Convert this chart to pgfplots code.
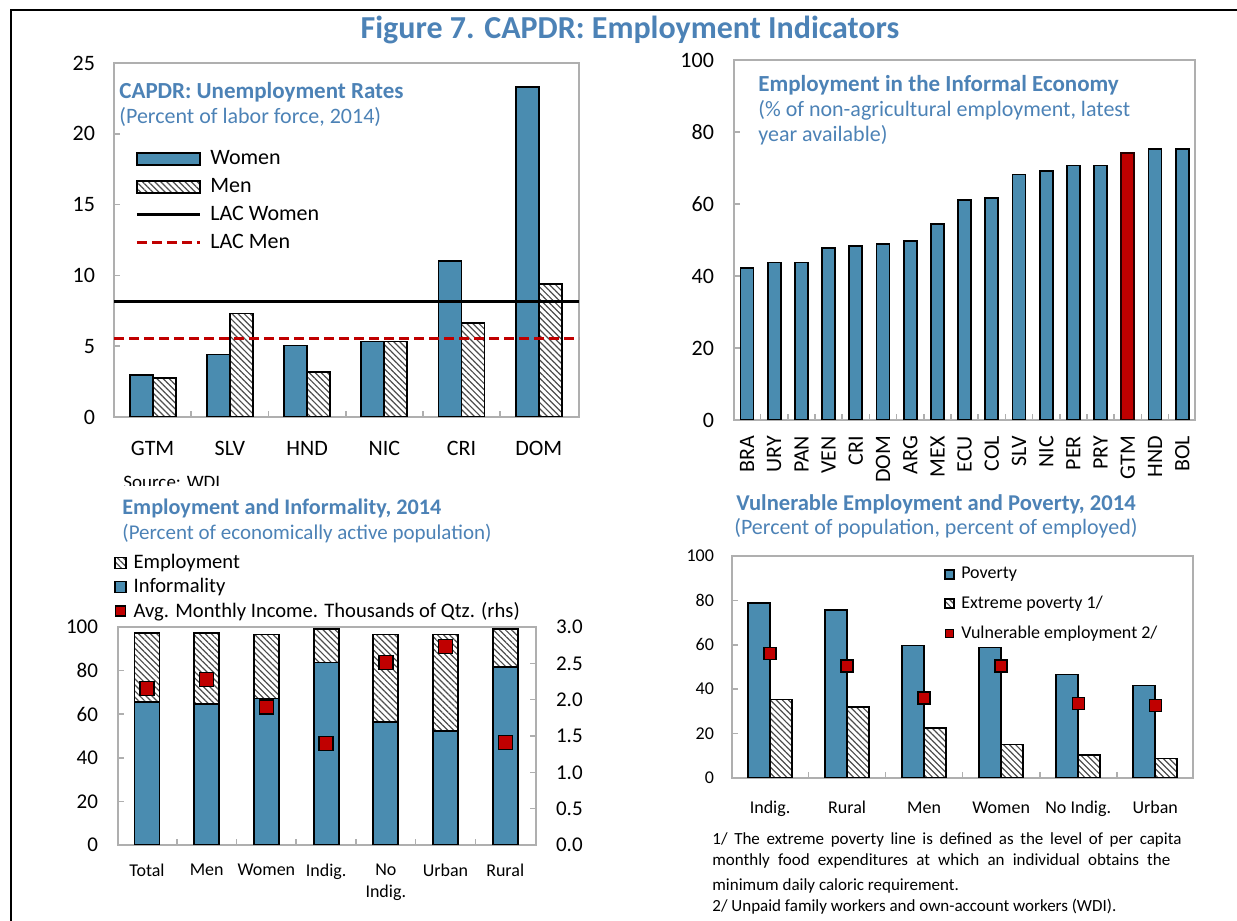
\documentclass[border=0pt]{standalone}
\usepackage{fontspec}
\setmainfont{Carlito}
\usepackage{pgfplots}
\pgfplotsset{compat=1.18}
\usetikzlibrary{patterns.meta}
\definecolor{barblue}{RGB}{74,140,176}
\definecolor{tblue}{RGB}{76,130,182}
\definecolor{dred}{RGB}{192,0,0}
\definecolor{axgray}{RGB}{175,175,175}
\tikzset{hatch/.style={pattern={Lines[angle=-45,distance=2.15pt,line width=0.6pt]},pattern color=black!70},
  ttl/.style={anchor=base west, inner sep=0pt, text=tblue}}
\pgfplotsset{
  /pgf/number format/assume math mode=true,
  myax/.style={scale only axis, anchor=south west,
    axis line style={draw=axgray, line width=0.9pt},
    tick style={draw=axgray, line width=0.8pt},
    tick align=inside, major tick length=3pt, minor tick length=3pt,
    major x tick style={draw=none}},
  widebar/.style={legend image code/.code={\draw[##1] (0pt,-3pt) rectangle (31.5pt,3pt);}},
  wideline/.style={legend image code/.code={\draw[##1] (0pt,0pt) -- (31.5pt,0pt);}},
  sqA/.style={legend image code/.code={\draw[##1] (0pt,-2.75pt) rectangle (5.5pt,2.75pt);}},
  sqAred/.style={legend image code/.code={\path[draw=black, fill=dred, line width=0.6pt] (0.3pt,-2.5pt) rectangle (5.3pt,2.5pt);}},
  sqB/.style={legend image code/.code={\draw[##1] (0pt,-2.25pt) rectangle (4.5pt,2.25pt);}},
  sqBred/.style={legend image code/.code={\path[draw=black, fill=dred, line width=0.6pt] (0pt,-2pt) rectangle (4pt,2pt);}},
}
\begin{document}
\begin{tikzpicture}
\path[use as bounding box] (0,0) rectangle (618.5pt,460.5pt);
\draw[line width=1pt] (5.5pt,0pt) -- (5.5pt,455.5pt) -- (618.5pt,455.5pt);
\node[font=\fontsize{16}{19}\selectfont\bfseries, text=tblue] at (315pt,445.5pt) {Figure 7. CAPDR: Employment Indicators};

% ---------------- Panel 1 ----------------
\begin{axis}[myax, at={(57pt,252pt)}, width=232.5pt, height=177pt,
  xmin=-0.5, xmax=5.52, ymin=0, ymax=25, ytick={0,5,...,25},
  xtick={0,...,5}, xticklabels={GTM,SLV,HND,NIC,CRI,DOM}, minor xtick={0.5,1.5,...,4.5},
  tick pos=left,
  tick label style={font=\fontsize{11}{13}\selectfont},
  xticklabel style={yshift=-8pt, text height=7.5pt, text depth=2pt}, yticklabel style={xshift=-6pt},
  legend style={at={(0.045,0.76)}, anchor=north west, draw=none, fill=none,
    font=\fontsize{11}{13}\selectfont, row sep=3.4pt, column sep=3.5pt, inner sep=0pt, nodes={inner sep=1pt}},
  legend cell align=left]
\addplot[ybar, bar width=11.5pt, bar shift=-5.75pt, fill=barblue, draw=black, line width=0.9pt, widebar]
  coordinates {(0,2.95) (1,4.41) (2,5.05) (3,5.33) (4,10.99) (5,23.28)};
\addlegendentry{Women}
\addplot[ybar, bar width=11.5pt, bar shift=5.75pt, hatch, draw=black, line width=0.9pt, widebar]
  coordinates {(0,2.78) (1,7.31) (2,3.2) (3,5.33) (4,6.65) (5,9.41)};
\addlegendentry{Men}
\addplot[sharp plot, black, line width=1.5pt, wideline]
  coordinates {(-0.5,8.18) (5.52,8.18)};
\addlegendentry{LAC Women}
\addplot[sharp plot, dred, line width=1.5pt, dash pattern=on 5pt off 2.5pt, wideline]
  coordinates {(-0.5,5.52) (5.52,5.52)};
\addlegendentry{LAC Men}
\end{axis}
\node[ttl, font=\fontsize{11.5}{14}\selectfont\bfseries] at (59.5pt,411pt) {CAPDR: Unemployment Rates};
\node[ttl, font=\fontsize{11}{13}\selectfont] at (59.5pt,398.5pt) {(Percent of labor force, 2014)};
\begin{scope}
\clip (0pt,217.5pt) rectangle (300pt,240pt);
\node[anchor=base west, inner sep=0pt, font=\fontsize{9.5}{11}\selectfont] at (61.5pt,216pt) {Source: WDI};
\end{scope}

% ---------------- Panel 2 ----------------
\begin{axis}[myax, at={(367pt,250.5pt)}, width=230.5pt, height=180pt,
  xmin=-0.48, xmax=16.47, ymin=0, ymax=100, ytick={0,20,...,100},
  xtick={0,...,16},
  xticklabels={BRA,URY,PAN,VEN,CRI,DOM,ARG,MEX,ECU,COL,SLV,NIC,PER,PRY,GTM,HND,BOL},
  minor xtick={0.5,1.5,...,15.5},
  tick pos=left,
  tick label style={font=\fontsize{11}{13}\selectfont},
  xticklabel style={rotate=90, anchor=east, xshift=-4.5pt}, yticklabel style={xshift=-6.5pt}]
\addplot[ybar, bar width=6.5pt, bar shift=0pt, fill=barblue, draw=black, line width=0.9pt]
  coordinates {(0,42.2) (1,43.75) (2,43.75) (3,47.8) (4,48.3) (5,48.8) (6,49.8) (7,54.5) (8,61.05) (9,61.6) (10,68.2) (11,69.2) (12,70.7) (13,70.7) (15,75.3) (16,75.3)};
\addplot[ybar, bar width=6.5pt, bar shift=0pt, fill=dred, draw=black!80!dred, line width=0.9pt]
  coordinates {(14,74.2)};
\end{axis}
\node[ttl, font=\fontsize{11.5}{14}\selectfont\bfseries] at (379pt,414.5pt) {Employment in the Informal Economy};
\node[ttl, font=\fontsize{11}{13}\selectfont] at (379pt,402pt) {(\% of non-agricultural employment, latest};
\node[ttl, font=\fontsize{11}{13}\selectfont] at (379pt,389.5pt) {year available)};

% ---------------- Panel 3 ----------------
\begin{axis}[myax, at={(59pt,38pt)}, width=209pt, height=109pt,
  xmin=-0.486, xmax=6.516, ymin=0, ymax=100, ytick={0,20,...,100},
  xtick={0,...,6}, xticklabels={Total,Men,Women,Indig.,{No\\Indig.},Urban,Rural},
  minor xtick={0.5,1.5,...,5.5},
  xtick pos=bottom, ytick pos=left,
  tick label style={font=\fontsize{10.5}{12}\selectfont},
  xticklabel style={font=\fontsize{9}{11}\selectfont, align=center, yshift=-6pt},
  yticklabel style={xshift=-6.5pt}]
\addplot[ybar, bar width=12.5pt, bar shift=0pt, hatch, draw=black, line width=0.9pt]
  coordinates {(0,97.4) (1,97.4) (2,96.6) (3,99.1) (4,96.6) (5,96.6) (6,99.1)};
\addplot[ybar, bar width=12.5pt, bar shift=0pt, fill=barblue, draw=black, line width=0.9pt]
  coordinates {(0,65.6) (1,64.6) (2,67.2) (3,83.7) (4,56.5) (5,52.4) (6,81.8)};
\end{axis}
\begin{axis}[myax, at={(59pt,38pt)}, width=209pt, height=109pt,
  xmin=-0.486, xmax=6.516, ymin=0, ymax=3, ytick={0,0.5,...,3},
  axis x line=none, axis y line*=right, ytick pos=right,
  tick label style={font=\fontsize{10.5}{12}\selectfont},
  yticklabel style={xshift=6.5pt, /pgf/number format/.cd, fixed, fixed zerofill, precision=1},
  legend style={at={(-0.01,1.345)}, anchor=north west, draw=none, fill=none,
    font=\fontsize{10.3}{12}\selectfont, row sep=1.3pt, column sep=2.5pt, inner sep=0pt, nodes={inner sep=1pt}},
  legend cell align=left]
\addlegendimage{hatch, draw=black, line width=0.7pt, sqA}
\addlegendentry{Employment}
\addlegendimage{fill=barblue, draw=black, line width=0.7pt, sqA}
\addlegendentry{Informality}
\addplot[only marks, mark=square*, mark size=3.5pt, mark options={fill=dred, draw=black, line width=0.7pt}, sqAred]
  coordinates {(0,2.15) (1,2.28) (2,1.90) (3,1.40) (4,2.51) (5,2.73) (6,1.41)};
\addlegendentry{Avg. Monthly Income. Thousands of Qtz. (rhs)}
\end{axis}
\node[ttl, font=\fontsize{11.1}{14}\selectfont\bfseries] at (61pt,203pt) {Employment and Informality, 2014};
\node[ttl, font=\fontsize{10.5}{13}\selectfont] at (61pt,190.5pt) {(Percent of economically active population)};

% ---------------- Panel 4 ----------------
\begin{axis}[myax, at={(366pt,71.5pt)}, width=230.5pt, height=111pt,
  xmin=-0.494, xmax=5.49, ymin=0, ymax=100, ytick={0,20,...,100},
  xtick={0,...,5}, xticklabels={Indig.,Rural,Men,Women,No Indig.,Urban},
  minor xtick={0.5,1.5,...,4.5},
  tick pos=left,
  tick label style={font=\fontsize{9}{11}\selectfont},
  xticklabel style={yshift=-7.5pt, text height=6.5pt, text depth=2pt}, yticklabel style={xshift=-5.5pt},
  legend style={at={(0.46,0.962)}, anchor=north west, draw=none, fill=none,
    font=\fontsize{9}{11}\selectfont, row sep=5.3pt, column sep=2pt, inner sep=0pt, nodes={inner sep=1pt}},
  legend cell align=left]
\addplot[ybar, bar width=11pt, bar shift=-5.5pt, fill=barblue, draw=black, line width=0.9pt, sqB]
  coordinates {(0,78.9) (1,75.7) (2,59.7) (3,58.8) (4,46.6) (5,41.7)};
\addlegendentry{Poverty}
\addplot[ybar, bar width=11pt, bar shift=5.5pt, hatch, draw=black, line width=0.9pt, sqB]
  coordinates {(0,35.4) (1,32.1) (2,22.5) (3,15.1) (4,10.3) (5,8.8)};
\addlegendentry{Extreme poverty 1/}
\addplot[only marks, mark=square*, mark size=3pt, mark options={fill=dred, draw=black, line width=0.7pt}, sqBred]
  coordinates {(0,56.2) (1,50.5) (2,36.0) (3,50.5) (4,33.6) (5,32.7)};
\addlegendentry{Vulnerable employment 2/}
\end{axis}
\node[anchor=base, inner sep=0pt, text=tblue, font=\fontsize{11.3}{14}\selectfont\bfseries] at (468pt,205pt) {Vulnerable Employment and Poverty, 2014};
\node[anchor=base, inner sep=0pt, text=tblue, font=\fontsize{11}{13}\selectfont] at (468pt,193pt) {(Percent of population, percent of employed)};
\begin{scope}[every node/.style={anchor=base west, inner sep=0pt, font=\fontsize{8.5}{10}\selectfont}]
\node at (356pt,38pt) {\makebox[234.5pt][s]{1/ The extreme poverty line is defined as the level of per capita}};
\node at (356pt,27.5pt) {\makebox[229pt][s]{monthly food expenditures at which an individual obtains the}};
\node at (356pt,15.5pt) {minimum daily caloric requirement.};
\node at (356pt,5pt) {2/ Unpaid family workers and own-account workers (WDI).};
\end{scope}
\end{tikzpicture}
\end{document}
